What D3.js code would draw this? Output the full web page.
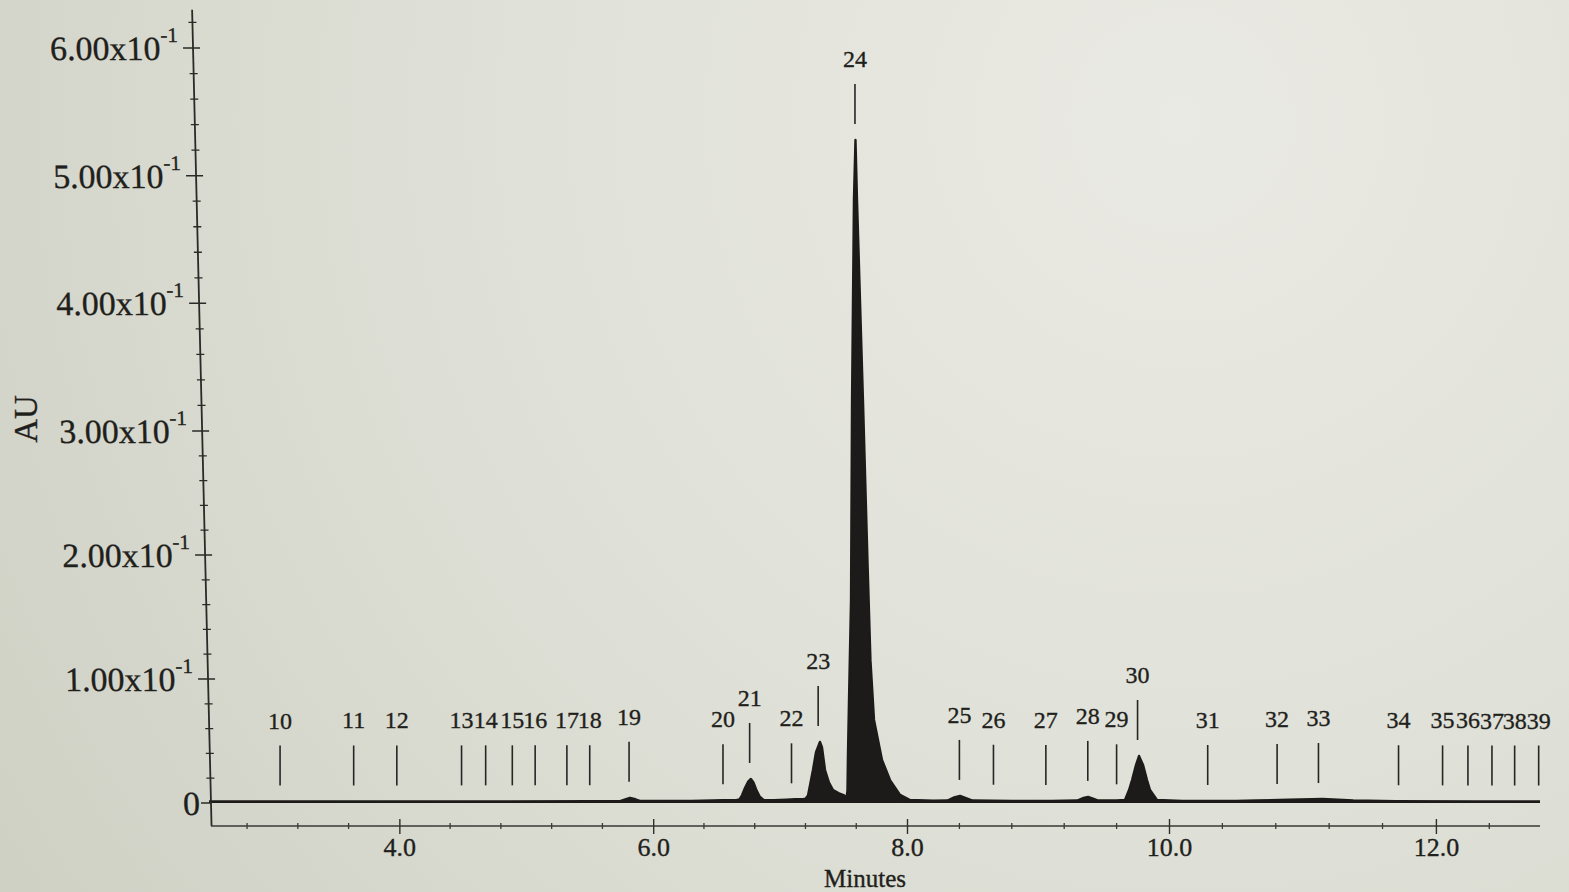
<!DOCTYPE html>
<html>
<head>
<meta charset="utf-8">
<script src="https://cdn.jsdelivr.net/npm/d3@7"></script>
<style>
  html, body { margin: 0; padding: 0; background: #dcddd3; }
  svg { display: block; }
  text { font-family: "Liberation Serif", "Times New Roman", serif; fill: #1f1f1c; stroke: #1f1f1c; stroke-width: 0.35px; }
</style>
</head>
<body>
<svg id="chart" width="1569" height="892"></svg>
<script>
// Detector trace: retention time (min) and absorbance (AU)
const traceTime = [2.50, 3.50, 4.50, 5.50, 5.74, 5.78, 5.817, 5.86, 5.90, 6.30,
  6.55, 6.66, 6.68, 6.70, 6.725, 6.75, 6.77, 6.79, 6.815, 6.84,
  6.87, 6.95, 7.05, 7.12, 7.18, 7.20, 7.22, 7.259, 7.283, 7.314,
  7.33, 7.354, 7.385, 7.417, 7.464, 7.505, 7.522, 7.531, 7.535, 7.543,
  7.559, 7.567, 7.582, 7.594, 7.606, 7.653, 7.690, 7.712, 7.740, 7.803,
  7.866, 7.945, 8.023, 8.20, 8.31, 8.36, 8.405, 8.45, 8.50, 8.80,
  9.10, 9.30, 9.34, 9.382, 9.42, 9.46, 9.60, 9.664, 9.695, 9.718,
  9.748, 9.771, 9.802, 9.832, 9.855, 9.908, 10.10, 10.50, 10.66, 10.90,
  11.15, 11.38, 11.70, 12.30, 12.78];
const traceAU = [0.0012, 0.0012, 0.0013, 0.0014, 0.0015, 0.0030, 0.0042, 0.0030, 0.0016, 0.0017,
  0.0022, 0.0024, 0.0030, 0.0062, 0.0125, 0.0175, 0.0194, 0.0165, 0.0100, 0.0050,
  0.0025, 0.0022, 0.0026, 0.0030, 0.0030, 0.0035, 0.0060, 0.0266, 0.0410, 0.0492,
  0.0450, 0.0266, 0.0165, 0.0105, 0.0078, 0.0062, 0.0030, 0.0100, 0.0400, 0.0830,
  0.1640, 0.3240, 0.4810, 0.5280, 0.4810, 0.3240, 0.1900, 0.1150, 0.0670, 0.0347,
  0.0185, 0.0065, 0.0024, 0.0018, 0.0020, 0.0045, 0.0057, 0.0040, 0.0020, 0.0016,
  0.0017, 0.0020, 0.0038, 0.0049, 0.0035, 0.0020, 0.0020, 0.0024, 0.0105, 0.0185,
  0.0306, 0.0379, 0.0306, 0.0185, 0.0105, 0.0024, 0.0016, 0.0016, 0.0020, 0.0026,
  0.0032, 0.0020, 0.0014, 0.0012, 0.0012];

// Integrated peak markers
const peakNumbers = [10, 11, 12, 13, 14, 15, 16, 17, 18, 19,
  20, 21, 22, 23, 24, 25, 26, 27, 28, 29,
  30, 31, 32, 33, 34, 35, 36, 37, 38, 39];
const peakTimes = [3.06, 3.64, 3.98, 4.49, 4.68, 4.89, 5.07, 5.32, 5.50, 5.81,
  6.55, 6.76, 7.09, 7.30, 7.59, 8.40, 8.66, 9.06, 9.38, 9.60,
  9.76, 10.29, 10.81, 11.12, 11.72, 12.05, 12.24, 12.42, 12.59, 12.77];

// Axis ticks
const timeTicks = [4.0, 6.0, 8.0, 10.0, 12.0];
const auTicks = [0, 0.1, 0.2, 0.3, 0.4, 0.5, 0.6];
const auTickMantissa = ["0", "1.00x10", "2.00x10", "3.00x10", "4.00x10", "5.00x10", "6.00x10"];
const auTickExponent = ["", "-1", "-1", "-1", "-1", "-1", "-1"];

const ink = "#1c1b19";
const svg = d3.select("#chart");

// paper
const defs = svg.append("defs");
const grad = defs.append("radialGradient").attr("id", "paper")
  .attr("gradientUnits", "userSpaceOnUse")
  .attr("cx", 1180).attr("cy", 120).attr("r", 1450);
grad.append("stop").attr("offset", 0).attr("stop-color", "#eaeae4");
grad.append("stop").attr("offset", 0.45).attr("stop-color", "#e0e1d8");
grad.append("stop").attr("offset", 1).attr("stop-color", "#cfd0c4");
svg.append("rect").attr("width", 1569).attr("height", 892).attr("fill", "url(#paper)");

// scales
const x = d3.scaleLinear().domain([2.5, 8, 10, 12.78]).range([209, 907, 1169, 1540]);
const y = d3.scaleLinear().domain([0, 0.3, 0.6]).range([803, 431, 48]);
const xAxisY = y(0) + 23;

const trace = traceTime.map((t, i) => ({ t, v: traceAU[i] }));

// filled trace
svg.append("path")
  .datum(trace)
  .attr("fill", ink)
  .attr("d", d3.area().x(d => x(d.t)).y0(y(0)).y1(d => y(d.v)));
svg.append("path")
  .datum(trace)
  .attr("fill", "none")
  .attr("stroke", ink)
  .attr("stroke-width", 2.4)
  .attr("stroke-linejoin", "round")
  .attr("d", d3.line().x(d => x(d.t)).y(d => y(d.v)));

// y axis (leans slightly)
const lean = 0.0238;
const yAxisG = svg.append("g")
  .attr("transform", `translate(${x(2.5) + 2 - y(0) * lean},0) skewX(${Math.atan(lean) * 180 / Math.PI})`);

yAxisG.append("line")
  .attr("x1", 0).attr("x2", 0)
  .attr("y1", y(0.63)).attr("y2", xAxisY)
  .attr("stroke", "#2a2a27").attr("stroke-width", 1.8);

const yMinor = d3.range(1, 32).filter(i => i % 5 !== 0).map(i => i * 0.02);
yAxisG.selectAll("line.minor").data(yMinor).join("line")
  .attr("class", "minor")
  .attr("x1", -4).attr("x2", 4)
  .attr("y1", d => y(d)).attr("y2", d => y(d))
  .attr("stroke", "#2a2a27").attr("stroke-width", 1.3);

yAxisG.selectAll("line.major").data(auTicks).join("line")
  .attr("class", "major")
  .attr("x1", -10).attr("x2", d => d === 0 ? 0 : 7)
  .attr("y1", d => y(d)).attr("y2", d => y(d))
  .attr("stroke", "#2a2a27").attr("stroke-width", 1.5);

const yLabels = yAxisG.selectAll("text.tick").data(auTicks).join("text")
  .attr("class", "tick")
  .attr("text-anchor", "end")
  .attr("x", (d, i) => i === 0 ? -11 : -15)
  .attr("y", d => y(d) + 12)
  .style("font-size", "34px");
yLabels.append("tspan").text((d, i) => auTickMantissa[i]);
yLabels.append("tspan")
  .attr("dy", -18)
  .style("font-size", "21px")
  .text((d, i) => auTickExponent[i]);

// x axis
const xAxis = d3.axisBottom(x)
  .tickValues(timeTicks)
  .tickSize(8)
  .tickSizeOuter(0)
  .tickFormat(d3.format(".1f"));
const xAxisG = svg.append("g")
  .attr("transform", `translate(0,${xAxisY})`)
  .call(xAxis);
xAxisG.select(".domain").attr("stroke", "#3a3a36").attr("stroke-width", 1.6)
  .attr("d", `M${x(2.5) + 2},0H${x(12.78)}`);
xAxisG.selectAll(".tick line").attr("y1", -7).attr("stroke", "#2f2f2b").attr("stroke-width", 1.4);
xAxisG.selectAll(".tick text")
  .attr("y", 30).attr("dy", null)
  .style("font-size", "26px")
  .style("font-family", '"Liberation Serif", "Times New Roman", serif')
  .attr("fill", "#1f1f1c");

const xMinor = d3.range(7, 32).filter(i => i % 5 !== 0).map(i => i * 0.4);
svg.append("g").selectAll("line").data(xMinor).join("line")
  .attr("x1", d => x(d)).attr("x2", d => x(d))
  .attr("y1", xAxisY - 3).attr("y2", xAxisY + 3)
  .attr("stroke", "#3a3a36").attr("stroke-width", 1.3);

// axis titles
svg.append("text")
  .attr("transform", "translate(37,419) rotate(-90)")
  .attr("text-anchor", "middle")
  .style("font-size", "33px")
  .text("AU");
svg.append("text")
  .attr("x", 865).attr("y", 887)
  .attr("text-anchor", "middle")
  .style("font-size", "25px")
  .text("Minutes");

// peak markers sit just above the trace at each retention time
const signalAt = d3.scaleLinear().domain(traceTime).range(traceAU).clamp(true);
function localMax(t) {
  const lo = t - 0.025, hi = t + 0.025;
  const inside = traceTime.filter(tt => tt >= lo && tt <= hi).map(tt => traceAU[traceTime.indexOf(tt)]);
  return d3.max([signalAt(lo), signalAt(t), signalAt(hi), ...inside]);
}
const markers = svg.append("g").selectAll("g").data(peakNumbers).join("g");
markers.each(function (n, i) {
  const t = peakTimes[i];
  const bottom = y(localMax(t)) - 16;
  const g = d3.select(this);
  g.append("line")
    .attr("x1", x(t)).attr("x2", x(t))
    .attr("y1", bottom - 40).attr("y2", bottom)
    .attr("stroke", "#262624").attr("stroke-width", 1.6);
  g.append("text")
    .attr("x", x(t)).attr("y", bottom - 57)
    .attr("text-anchor", "middle")
    .style("font-size", "24px")
    .text(n);
});
</script>
</body>
</html>
